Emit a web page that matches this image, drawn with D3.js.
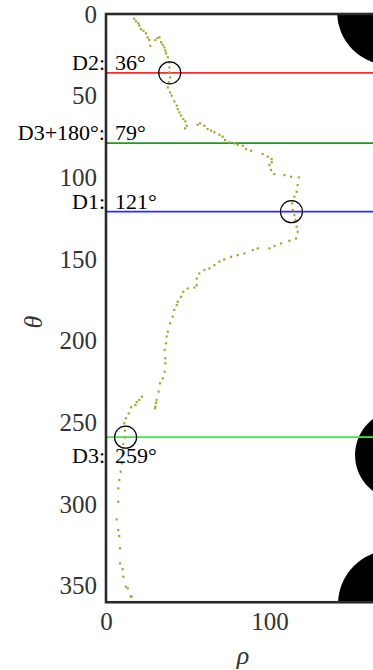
<!DOCTYPE html>
<html>
<head>
  <meta charset="utf-8">
  <script src="https://d3js.org/d3.v7.min.js"></script>
  <style>
    body { margin: 0; background: #fff; }
    svg { display: block; font-family: "Liberation Serif", "DejaVu Serif", serif; }
  </style>
</head>
<body>
<svg id="chart" width="373" height="670"></svg>
<script>
// peak trace in the (rho, theta) plane
var thetaVals = [2.9, 4.5, 5.7, 7.1, 9.2, 10.2, 11.8, 14.3, 15.9, 19.4, 15.9, 14.7, 14.3, 17.3, 18.8, 20.4,
  22.4, 24.1, 26.5, 29.6, 32.7, 35.7, 38.8, 41.8, 44.9, 48, 50, 53.5, 56.1, 58.2, 60.2, 62.2, 64.3, 65.7,
  68.4, 70, 67.8, 66.9, 68.4, 70.4, 71.4, 72.4, 73.9, 75.1, 77.1, 78.6, 79.2, 80, 80.6, 82.7, 83.7, 85.7,
  87.3, 88.8, 90.8, 92.4, 95.5, 98, 98.6, 99.6, 100, 104.7, 108.8, 111.8, 115.9, 120, 123.1, 126, 130.2,
  133.3, 137.4, 138.8, 140.4, 142, 143.5, 143.5, 144.5, 146.5, 147.6, 148.6, 150.2, 151.6, 153.7, 155.7,
  156.7, 158.8, 161.9, 166, 167.4, 168, 170, 173.1, 176.1, 178.1, 181.1, 185.2, 189.3, 194.4, 197.4,
  201.5, 205.6, 210.7, 213.8, 218.9, 223, 226, 231.1, 236.2, 238, 240.3, 241.3, 234.2, 236.2, 237.5,
  239.3, 240.7, 244.4, 247.4, 250.5, 255, 259.1, 263.2, 268.9, 275, 280.1, 285.2, 290.3, 298.5, 309.3,
  315.8, 319.5, 327, 336.2, 339.8, 344.4, 350.5, 351.5, 356.4, 356.6];
var rhoVals = [17.3, 18.4, 19.8, 20.4, 21.4, 22.9, 24.5, 25.5, 26.5, 27.1, 30.2, 31.6, 32.7, 33.7, 34.7, 35.7,
  36.3, 36.7, 37.8, 38.8, 38.8, 38.8, 39.2, 38.4, 37.8, 39.2, 40.2, 41.8, 43.3, 43.9, 44.9, 45.9, 47.3, 48.6,
  49.4, 48.4, 56.1, 57.6, 60.2, 62.2, 64.3, 66.3, 69.4, 71.4, 72.9, 75.5, 78.6, 80.6, 83.7, 85.7, 88.8, 95.9,
  99, 101.4, 101.4, 100, 101, 103, 109.2, 113.3, 118, 117.3, 116.7, 115.3, 113.9, 114.3, 115.3, 116, 116.7,
  117.3, 116.3, 112.2, 107.1, 103.1, 100, 92.9, 89.8, 84.7, 80.6, 76.5, 72.4, 69.4, 66.3, 63.3,
  60.2, 57.1, 55.5, 55.5, 54.1, 50, 47.3, 45.9, 43.9, 43.3, 41.8, 40.8, 39.2, 37.8, 37.1,
  36.7, 35.9, 36.3, 36.3, 35.9, 34.7, 33.1, 32.2, 31, 30.6, 30.2, 30, 22, 20.4, 18.8,
  18, 15.3, 13.9, 12.2, 11.2, 11.6, 11.6, 10.6, 10.2, 9.6, 9, 8.1, 7.5, 7.5, 6.5,
  7.5, 8.1, 8.6, 8.6, 10.2, 10.6, 12.2, 13.3, 15.1, 15.7];

// detected directions
var dirNames = ["D2", "D3+180°", "D1", "D3"];
var dirTheta = [36, 79, 121, 259];
var dirRho = [39, 0, 113.5, 12];          // 0 = no marker
var dirColors = ["#ff2a2a", "#1f9a1f", "#2b2bff", "#36f036"];

// black (masked) regions at the right: centre rho, centre theta, radius
var blobRho = [173.8, 179.9, 175];
var blobTheta = [-1.2, 269.9, 361.1];
var blobR = [32.4, 27.5, 33];

var xTicks = [0, 100];
var yTicks = [0, 50, 100, 150, 200, 250, 300, 350];

var svg = d3.select("#chart");
var k = 1.634;
var plotLeft = 106, plotTop = 14;
var x = d3.scaleLinear().domain([0, 180]).range([plotLeft, plotLeft + 180 * k]);
var y = d3.scaleLinear().domain([0, 360]).range([plotTop, plotTop + 360 * k]);

svg.append("clipPath").attr("id", "plotclip")
  .append("rect")
  .attr("x", x(0)).attr("y", y(0))
  .attr("width", x(180) - x(0)).attr("height", y(360) - y(0));

var plot = svg.append("g").attr("clip-path", "url(#plotclip)");

plot.selectAll("circle.blob")
  .data(blobRho)
  .enter().append("circle")
  .attr("class", "blob")
  .attr("cx", function(d) { return x(d); })
  .attr("cy", function(d, i) { return y(blobTheta[i]); })
  .attr("r", function(d, i) { return blobR[i] * k; })
  .attr("fill", "#000");

plot.selectAll("line.dir")
  .data(dirTheta)
  .enter().append("line")
  .attr("class", "dir")
  .attr("x1", x(0)).attr("x2", x(180))
  .attr("y1", function(d) { return y(d); })
  .attr("y2", function(d) { return y(d); })
  .attr("stroke", function(d, i) { return dirColors[i]; })
  .attr("stroke-width", 1.8);

plot.selectAll("rect.pt")
  .data(thetaVals)
  .enter().append("rect")
  .attr("class", "pt")
  .attr("x", function(d, i) { return x(rhoVals[i]) - 1.1; })
  .attr("y", function(d) { return y(d) - 1.1; })
  .attr("width", 2.2).attr("height", 2.2)
  .attr("fill", "#a5a534");

plot.selectAll("circle.mark")
  .data(dirTheta.filter(function(d, i) { return dirRho[i] > 0; }))
  .enter().append("circle")
  .attr("class", "mark")
  .attr("cx", function(d) { return x(dirRho[dirTheta.indexOf(d)]); })
  .attr("cy", function(d) { return y(d); })
  .attr("r", 11)
  .attr("fill", "none")
  .attr("stroke", "#000")
  .attr("stroke-width", 1.2);

// frame (right spine is off the canvas)
svg.append("rect")
  .attr("x", x(0)).attr("y", y(0))
  .attr("width", x(180) - x(0)).attr("height", y(360) - y(0))
  .attr("fill", "none").attr("stroke", "#2b2b2b").attr("stroke-width", 2.6);

var xAxis = svg.append("g")
  .attr("transform", "translate(0," + y(360) + ")")
  .call(d3.axisBottom(x).tickValues(xTicks).tickSize(0).tickPadding(10).tickFormat(d3.format("d")));
var yAxis = svg.append("g")
  .attr("transform", "translate(" + x(0) + ",0)")
  .call(d3.axisLeft(y).tickValues(yTicks).tickSize(0).tickPadding(9).tickFormat(d3.format("d")));

[xAxis, yAxis].forEach(function(g) {
  g.select(".domain").remove();
  g.selectAll("text")
    .attr("font-family", "Liberation Serif, serif")
    .attr("font-size", 25)
    .attr("fill", "#333");
});
xAxis.selectAll("text").attr("dy", "0.72em");

svg.append("text")
  .attr("x", 243).attr("y", 664)
  .attr("text-anchor", "middle")
  .attr("font-size", 26).attr("font-style", "italic")
  .attr("fill", "#333")
  .text("ρ");
svg.append("text")
  .attr("transform", "translate(42,322) rotate(-90)")
  .attr("text-anchor", "middle")
  .attr("font-size", 26).attr("font-style", "italic")
  .attr("fill", "#333")
  .text("θ");

// direction labels
var labels = svg.append("g").attr("font-size", 22).attr("fill", "#000");
dirTheta.forEach(function(t, i) {
  var below = t > 200;
  var by = below ? y(t) + 26 : y(t) - 3;
  labels.append("text")
    .attr("x", x(0) - 1).attr("y", by)
    .attr("text-anchor", "end")
    .text(dirNames[i] + ":");
  labels.append("text")
    .attr("x", x(0) + 9).attr("y", by)
    .text(t + "°");
});
</script>
</body>
</html>
